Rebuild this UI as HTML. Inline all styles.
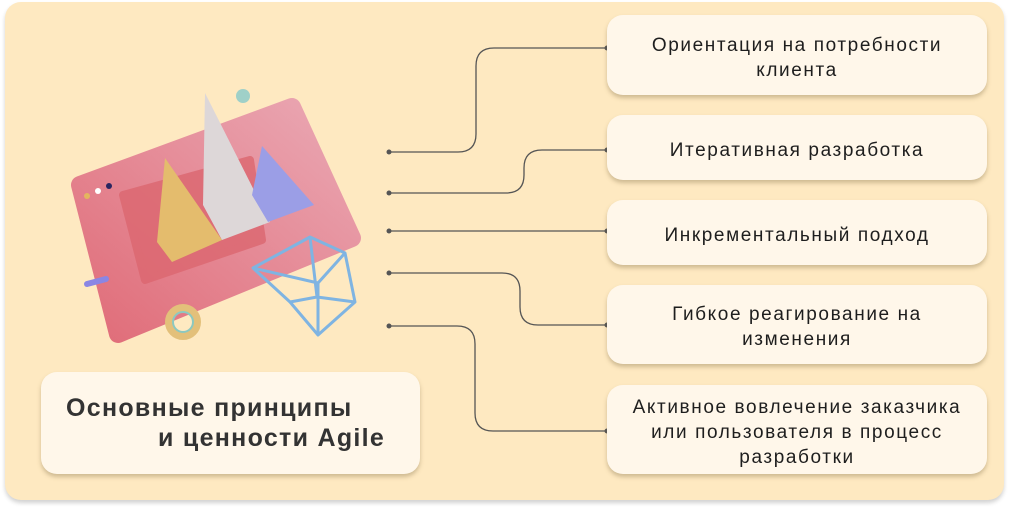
<!DOCTYPE html>
<html><head><meta charset="utf-8"><style>
body{margin:0;width:1010px;height:510px;background:#fff;position:relative;overflow:hidden;font-family:"Liberation Sans",sans-serif}
.panel{position:absolute;left:5px;top:2px;width:999px;height:498px;background:#fee9c1;border-radius:16px;box-shadow:0 3px 4px rgba(0,0,0,.18)}
.box{position:absolute;left:607px;width:380px;box-sizing:border-box;padding-top:5px;background:#fff7ea;border-radius:16px;box-shadow:0 3px 4px rgba(120,100,60,.35);display:flex;align-items:center;justify-content:center;text-align:center;font-size:19px;line-height:25px;color:#1e1e1e;letter-spacing:1.6px}
.title{position:absolute;left:41px;top:372px;width:379px;height:102px;background:#fff7ea;border-radius:16px;box-shadow:0 3px 4px rgba(120,100,60,.35);font-weight:bold;font-size:25px;line-height:36px;color:#333;letter-spacing:1.3px;white-space:nowrap}
</style></head><body>
<div class="panel"></div>
<svg style="position:absolute;left:0;top:0" width="1010" height="510">
<defs><linearGradient id="pk" x1="0" y1="1" x2="1" y2="0"><stop offset="0" stop-color="#e06c78"/><stop offset="1" stop-color="#eaa8b4"/></linearGradient></defs>
<g fill="none" stroke="#555" stroke-width="1.3">
<path d="M389 152 H458 Q476 152 476 134 V66 Q476 48 494 48 H607"/>
<path d="M389 193 H506 Q524 193 524 175 V168 Q524 150 542 150 H607"/>
<path d="M389 231 H607"/>
<path d="M389 273 H502 Q520 273 520 291 V307 Q520 325 538 325 H607"/>
<path d="M389 326 H457 Q475 326 475 344 V413 Q475 431 493 431 H607"/>
</g>
<g fill="#555"><circle cx="389" cy="152" r="2.5"/><circle cx="389" cy="193" r="2.5"/><circle cx="389" cy="231" r="2.5"/><circle cx="389" cy="273" r="2.5"/><circle cx="389" cy="326" r="2.5"/>
<circle cx="607" cy="48" r="2.5"/><circle cx="607" cy="150" r="2.5"/><circle cx="607" cy="231" r="2.5"/><circle cx="607" cy="325" r="2.5"/><circle cx="607" cy="431" r="2.5"/></g>
<polygon points="80,185 292,107 352,238 118,334" fill="url(#pk)" stroke="url(#pk)" stroke-width="18" stroke-linejoin="round"/>
<polygon points="123,195 250,160 262,240 145,280" fill="#dc6770" opacity=".8" stroke="#dc6770" stroke-width="8" stroke-linejoin="round"/>
<polygon points="165,158 157,242 172,262 222,240" fill="#e4bc6d"/>
<polygon points="205,93 203,205 222,240 270,222" fill="#ddd7d8"/>
<polygon points="262,146 252,195 268,222 314,205" fill="#9b9ee6"/>
<g fill="none" stroke="#7fb4e2" stroke-width="3" stroke-linejoin="round">
<polygon points="253,268 310,237 345,253 355,302 318,335 290,302"/>
<path d="M253,268 L318,283 L345,253 M318,283 L318,335 M310,237 L317,297 L290,302 M317,297 L355,302"/>
</g>
<circle cx="183" cy="322" r="14" fill="none" stroke="#e3c07a" stroke-width="8"/>
<circle cx="183" cy="322" r="10" fill="none" stroke="#8cc8c0" stroke-width="2"/>
<circle cx="243" cy="96" r="7" fill="#9fd0c8"/>
<line x1="87" y1="284" x2="106" y2="279" stroke="#8a86e4" stroke-width="6" stroke-linecap="round"/>
<circle cx="87" cy="196" r="3" fill="#e4b55e"/><circle cx="98" cy="191" r="3" fill="#fff"/><circle cx="109" cy="186" r="3" fill="#2a2560"/>
</svg>
<div class="box" style="top:15px;height:80px">Ориентация на потребности<br>клиента</div>
<div class="box" style="top:115px;height:65px">Итеративная разработка</div>
<div class="box" style="top:200px;height:65px">Инкрементальный подход</div>
<div class="box" style="top:285px;height:79px">Гибкое реагирование на<br>изменения</div>
<div class="box" style="top:385px;height:89px">Активное вовлечение заказчика<br>или пользователя в процесс<br>разработки</div>
<div class="title"><div style="position:absolute;left:25px;top:18px">Основные принципы</div><div style="position:absolute;left:117px;top:48px">и ценности Agile</div></div>
</body></html>
